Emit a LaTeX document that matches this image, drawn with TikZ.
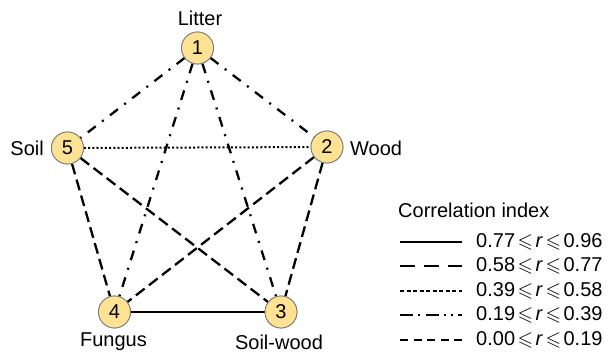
\documentclass[tikz,border=0pt]{standalone}
\usepackage{amssymb}
\usepackage{fontspec}
\setmainfont{Liberation Sans}
\definecolor{nodefill}{RGB}{253,226,148}
\definecolor{nodedraw}{RGB}{120,120,120}
\tikzset{
  vtx/.style={circle, fill=nodefill, draw=nodedraw, line width=0.8pt, minimum size=32pt, inner sep=0pt, font=\fontsize{20}{24}\selectfont},
  lbl/.style={font=\fontsize{20}{24}\selectfont, inner sep=0pt},
  edgesolid/.style={line width=2pt},
  edgelong/.style={line width=2.3pt, dash pattern=on 11pt off 5.5pt},
  edgedot/.style={line width=2pt, dash pattern=on 2pt off 2.2pt},
  edgedashdot/.style={line width=2.3pt, dash pattern=on 10pt off 8pt on 2pt off 8pt},
  legsolid/.style={line width=1.8pt},
  leglong/.style={line width=1.8pt, dash pattern=on 15pt off 9pt},
  legdot/.style={line width=1.8pt, dash pattern=on 4pt off 2.5pt},
  legdashdot/.style={line width=1.8pt, dash pattern=on 13pt off 5pt on 2pt off 6pt on 13pt off 5pt on 2pt off 5pt on 2pt off 5pt},
  legdash/.style={line width=1.8pt, dash pattern=on 8pt off 5.5pt},
}
\newcommand{\rng}[2]{#1\kern2.5pt$\leqslant$\kern2.5pt\textit{r}\kern2.5pt$\leqslant$\kern2.5pt#2}
\begin{document}
\begin{tikzpicture}[x=1pt,y=-1pt]
\useasboundingbox (0,0) rectangle (611,355);
% nodes
\node[vtx] (n1) at (197.5,48) {1};
\node[vtx] (n2) at (327,147) {2};
\node[vtx] (n3) at (281,312) {3};
\node[vtx] (n4) at (114.5,312) {4};
\node[vtx] (n5) at (67.5,148) {5};
% edges
\draw[edgedashdot] (n1) -- (n2);
\draw[edgedashdot] (n1) -- (n5);
\draw[edgedashdot] (n1) -- (n3);
\draw[edgedashdot] (n1) -- (n4);
\draw[edgedot] (n5) -- (n2);
\draw[edgelong] (n5) -- (n4);
\draw[edgelong] (n5) -- (n3);
\draw[edgelong] (n2) -- (n4);
\draw[edgelong] (n2) -- (n3);
\draw[edgesolid] (n4) -- (n3);
% redraw nodes on top
\node[vtx] at (n1) {1};
\node[vtx] at (n2) {2};
\node[vtx] at (n3) {3};
\node[vtx] at (n4) {4};
\node[vtx] at (n5) {5};
% labels
\node[lbl] (l1) at (200,18) {Litter};
\node[lbl, anchor=west] (l2) at (350,148) {Wood};
\node[lbl, anchor=east] (l5) at (44,148) {Soil};
\node[lbl] (l4) at (113.5,342) {Fungus};
\node[lbl] (l3) at (279,342) {Soil-wood};
% legend
\node[lbl, anchor=west] (lt) at (398,210) {Correlation index};
\coordinate (a1) at (400,242); \coordinate (b1) at (462,242);
\coordinate (a2) at (400,266); \coordinate (b2) at (462,266);
\coordinate (a3) at (400,291); \coordinate (b3) at (462,291);
\coordinate (a4) at (400,315); \coordinate (b4) at (462,315);
\coordinate (a5) at (400,340); \coordinate (b5) at (462,340);
\draw[legsolid] (a1) -- (b1);
\draw[leglong] (a2) -- (b2);
\draw[legdot] (a3) -- (b3);
\draw[legdashdot] (a4) -- (b4);
\draw[legdash] (a5) -- (b5);
\node[lbl, anchor=west] (t1) at (476,242) {\rng{0.77}{0.96}};
\node[lbl, anchor=west] (t2) at (476,266) {\rng{0.58}{0.77}};
\node[lbl, anchor=west] (t3) at (476,291) {\rng{0.39}{0.58}};
\node[lbl, anchor=west] (t4) at (476,315) {\rng{0.19}{0.39}};
\node[lbl, anchor=west] (t5) at (476,340) {\rng{0.00}{0.19}};
\end{tikzpicture}
\end{document}
